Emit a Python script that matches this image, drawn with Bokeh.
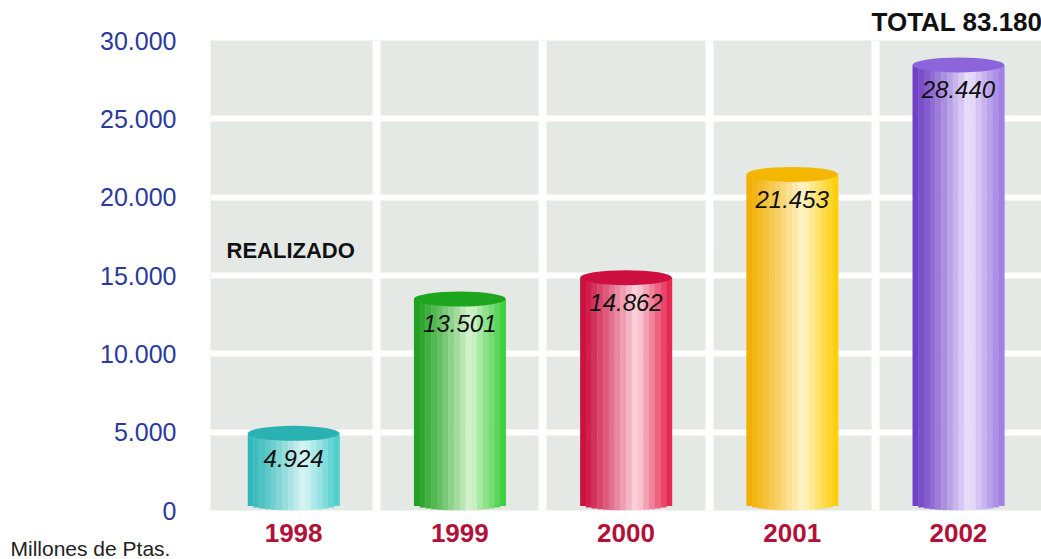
import numpy as np
from bokeh.plotting import figure
from bokeh.models import FixedTicker, Range1d, Label, ColumnDataSource, Title
from bokeh.core.properties import value
from bokeh.embed import file_html
from bokeh.resources import INLINE

# ---- data ----
years = ["1998", "1999", "2000", "2001", "2002"]
amounts = [4924, 13501, 14862, 21453, 28440]
y_ticks = [0, 5000, 10000, 15000, 20000, 25000, 30000]
y_tick_labels = ["0", "5.000", "10.000", "15.000", "20.000", "25.000", "30.000"]
unit_label = "Millones de Ptas."
stage_label = "REALIZADO"

# ---- styles ----
left_cols = ["#2db6b6", "#1c9f1c", "#cb0a3b", "#f1ae00", "#6c3cc4"]
light_cols = ["#dcf6f6", "#daf5d3", "#fcd9e1", "#fff4cc", "#ece5fb"]
right_cols = ["#46cccc", "#36cc36", "#e31c48", "#ffcc00", "#9b79e2"]
cap_cols = ["#2ab1b1", "#1ea71e", "#ce1040", "#f3b700", "#8c64db"]

FONT = "Liberation Sans"


def fmt(v):
    return f"{v:,}".replace(",", ".")


def hex2rgb(h):
    h = h.lstrip("#")
    return np.array([int(h[i:i + 2], 16) for i in (0, 2, 4)], dtype=float)


def mix(a, b, t):
    c = hex2rgb(a) * (1 - t) + hex2rgb(b) * t
    return "#%02x%02x%02x" % tuple(int(round(x)) for x in c)


p = figure(width=1041, height=559, output_backend="svg", toolbar_location=None,
           x_range=Range1d(0, len(years)), y_range=Range1d(0, 30000),
           min_border_left=210, min_border_right=0, min_border_top=40,
           min_border_bottom=49)
p.outline_line_color = None
p.background_fill_color = "#e4e9e5"
p.border_fill_color = "white"

# grid
p.ygrid.ticker = FixedTicker(ticks=y_ticks[1:-1])
p.ygrid.grid_line_color = "white"
p.ygrid.grid_line_width = 6
p.xgrid.ticker = FixedTicker(ticks=list(range(1, len(years))))
p.xgrid.grid_line_color = "white"
p.xgrid.grid_line_width = 8

# axes
centers = [i + 0.5 for i in range(len(years))]
p.xaxis.ticker = FixedTicker(ticks=centers)
p.xaxis.major_label_overrides = {c: y for c, y in zip(centers, years)}
p.xaxis.major_label_text_font = FONT
p.xaxis.major_label_text_font_size = "26px"
p.xaxis.major_label_text_font_style = "bold"
p.xaxis.major_label_text_color = "#b3103a"
p.xaxis.major_label_standoff = 13

p.yaxis.ticker = FixedTicker(ticks=y_ticks)
p.yaxis.major_label_overrides = {t: l for t, l in zip(y_ticks, y_tick_labels)}
p.yaxis.major_label_text_font = FONT
p.yaxis.major_label_text_font_size = "25px"
p.yaxis.major_label_text_color = "#2a3a9c"
p.yaxis.major_label_standoff = 34

for ax in (p.xaxis, p.yaxis):
    ax.axis_line_color = None
    ax.major_tick_line_color = None
    ax.minor_tick_line_color = None
    ax.major_tick_out = 0
    ax.major_tick_in = 0

# cylinders
hw = 0.276
n_str = 16
px_per_val = 470.0 / 30000
bottom_r = 7 / px_per_val
L, R, B, T, C = [], [], [], [], []
for i, v in enumerate(amounts):
    c = centers[i]
    edges = np.linspace(c - hw, c + hw, n_str + 1)
    for k in range(n_str):
        t = (k + 0.5) / n_str
        if t <= 0.62:
            col = mix(left_cols[i], light_cols[i], (t / 0.62) ** 1.2)
        else:
            col = mix(light_cols[i], right_cols[i], ((t - 0.62) / 0.38) ** 0.9)
        u = 2 * t - 1
        L.append(edges[k])
        R.append(edges[k + 1] + 0.002)
        B.append(bottom_r * (1 - np.sqrt(max(0.0, 1 - u * u))))
        T.append(v)
        C.append(col)

src = ColumnDataSource(dict(left=L, right=R, bottom=B, top=T, color=C))
p.quad(left="left", right="right", bottom="bottom", top="top", fill_color="color",
       line_color=None, source=src)

p.ellipse(x=centers, y=amounts, width=2 * hw, height=15, height_units="screen",
          fill_color=cap_cols, line_color=None)

lab_src = ColumnDataSource(dict(x=centers, y=amounts, t=[fmt(v) for v in amounts]))
p.text(x="x", y="y", text="t", source=lab_src, y_offset=25,
       text_align="center", text_baseline="middle",
       text_font=value(FONT), text_font_size="24px", text_font_style="italic",
       text_color="#111111")

# annotations
p.add_layout(Label(x=0, y=16600, x_offset=16, text=stage_label,
                   text_font=FONT, text_font_size="22px", text_font_style="bold",
                   text_color="#111111", text_baseline="middle"))
p.add_layout(Title(text="TOTAL " + fmt(sum(amounts)), align="right",
                   text_font=FONT, text_font_size="26px", text_font_style="bold",
                   text_color="#111111", standoff=7, offset=-1), "above")
p.add_layout(Title(text=unit_label, align="left", offset=-200, standoff=-30,
                   text_font=FONT, text_font_size="21px", text_font_style="normal",
                   text_color="#222222"), "below")

open("out.html", "w").write(file_html(p, INLINE))
